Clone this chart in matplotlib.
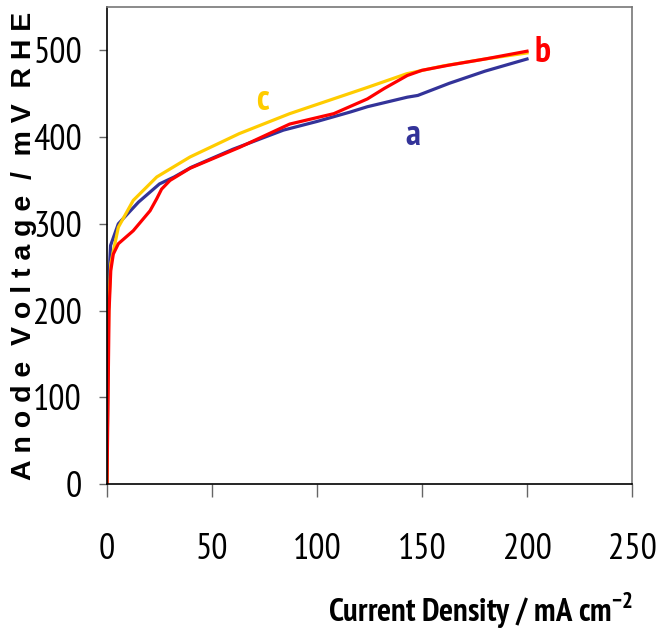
import numpy as np
import matplotlib
matplotlib.use('Agg')
import matplotlib.pyplot as plt
from matplotlib import font_manager

# polarisation curves, anode voltage vs current density
j_a = [0, 0.3, 0.7, 1.2, 1.7, 5.4, 15, 25, 32, 40, 60, 84, 100, 116, 124, 143, 148, 163, 180, 200]
v_a = [0, 100, 200, 250, 275, 300, 325, 346, 354, 365, 386, 408, 418, 429, 435, 446, 448, 462, 476, 490]

j_b = [0, 0.5, 1.0, 1.8, 3, 5.4, 12.5, 20.5, 23.7, 26, 30, 39.5, 63, 87, 108, 124, 132, 143, 150, 163, 180, 200]
v_b = [0, 100, 200, 246, 265, 277, 292, 315, 329, 340, 350, 364, 388, 415, 427, 444, 456, 471, 477, 483, 490, 499]

j_c = [0, 0.3, 0.8, 1.8, 5.4, 12.5, 23.7, 39.5, 63, 87, 123.7, 142.7, 160, 180, 200]
v_c = [0, 100, 200, 254, 296, 327, 354, 377, 404, 427, 457, 473, 482, 490, 497]

curve_names = ['a', 'b', 'c']
name_pos = [(145.7, 402), (207.6, 497.7), (73.8, 442)]
xticks = [0, 50, 100, 150, 200, 250]
yticks = [0, 100, 200, 300, 400, 500]


def first_font(cands, bold=False):
    fl = font_manager.fontManager.ttflist
    for c in cands:
        ws = [f.weight for f in fl if f.name == c]
        if ws and (not bold or any(isinstance(w, int) and w >= 700 or w == 'bold' for w in ws)):
            return c
    return 'DejaVu Sans'


narrow = first_font(['Liberation Sans Narrow', 'Archivo Narrow', 'PT Sans Narrow',
                     'Roboto Condensed', 'Fira Sans Condensed'], bold=True)
wide = first_font(['Liberation Sans', 'Arimo', 'Roboto'], bold=True)

plt.rcParams['mathtext.fontset'] = 'custom'
plt.rcParams['mathtext.rm'] = narrow
plt.rcParams['mathtext.bf'] = narrow + ':bold'

blue = '#333399'
red = '#ff0000'
yellow = '#ffcc00'

fig = plt.figure(figsize=(6.58, 6.34), dpi=100)
ax = fig.add_axes([0.1626, 0.2366, 0.7979, 0.7524])

ax.plot(j_a, v_a, color=blue, lw=2.3, solid_joinstyle='round')
ax.plot(j_c, v_c, color=yellow, lw=2.3, solid_joinstyle='round')
ax.plot(j_b, v_b, color=red, lw=2.3, solid_joinstyle='round')

for name, (x, y), c in zip(curve_names, name_pos, [blue, red, yellow]):
    ax.text(x, y, name, color=c, fontsize=26, fontweight='bold',
            family=narrow, ha='center', va='center')

ax.set_xlim(0, 250)
ax.set_ylim(0, 550)
ax.set_xticks(xticks)
ax.set_yticks(yticks)
ax.tick_params(axis='x', direction='out', length=9, width=1, color='#666666',
               pad=26, labelsize=26)
ax.tick_params(axis='y', direction='out', length=6, width=1, color='#666666',
               pad=12, labelsize=26)
for lab in ax.get_xticklabels() + ax.get_yticklabels():
    lab.set_family(narrow)

ax.spines['left'].set_color('black')
ax.spines['bottom'].set_color('black')
ax.spines['top'].set_color('#777777')
ax.spines['right'].set_color('#777777')
for s in ax.spines.values():
    s.set_linewidth(1.2)

fig.text(0.731, 0.036, 'Current Density / mA cm$^{\\mathbf{-2}}$', ha='center', va='center',
         fontsize=23.5, fontweight='bold', family=narrow)
fig.text(0.036, 0.612, 'A n o d e  V o l t a g e  /  m V  R H E', rotation=90,
         ha='center', va='center', fontsize=20.5, fontweight='bold', family=wide)

fig.savefig('out.png', dpi=100)
